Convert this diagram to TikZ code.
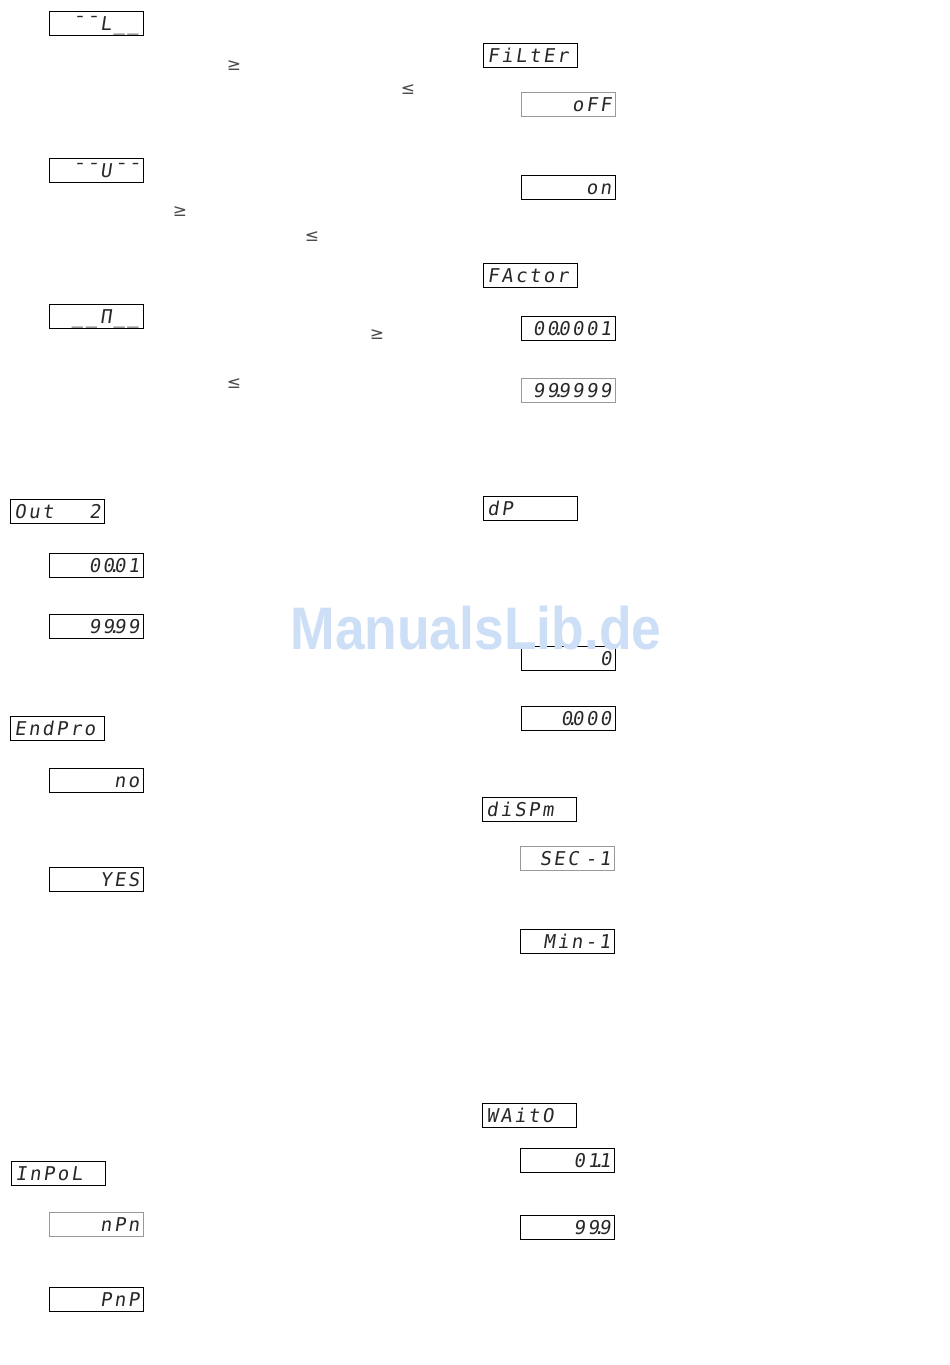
\documentclass[tikz,border=0pt]{standalone}
\usepackage{fontspec}
\newfontfamily\segfont[LetterSpace=13,FakeSlant=0.15]{DejaVu Sans Mono}
\newfontfamily\symfont{DejaVu Sans}
\newfontfamily\wmfont{Liberation Sans}
\definecolor{wmblue}{RGB}{204,223,247}
\definecolor{segink}{RGB}{40,40,40}
\newcommand\dt{\makebox[0pt][c]{.}}
\tikzset{
  disp/.style={draw=black, line width=0.9pt, anchor=north west,
    minimum width=94pt, minimum height=24pt, inner xsep=4pt, inner ysep=0pt,
    text width=86pt, text height=14pt, text depth=0pt,
    font=\segfont\fontsize{19}{19}\selectfont, text=segink},
  rv/.style={disp, align=right},
  lv/.style={disp, align=left},
  pale/.style={draw=black!40},
  rel/.style={font=\symfont\fontsize{17}{17}\selectfont, text=black!70, inner sep=0pt}
}
\begin{document}
\begin{tikzpicture}[x=1pt,y=-1pt]
\useasboundingbox[fill=white] (0,0) rectangle (950,1365);
% left column
\node[rv] (lo) at (49,11) {¯¯L\_\_};
\node[rel] (ge1) at (234,66) {≥};
\node[rel] (le1) at (408,90) {≤};
\node[rv] (up) at (49,158) {¯¯U¯¯};
\node[rel] (ge2) at (180,212) {≥};
\node[rel] (le2) at (312,237) {≤};
\node[rv] (mid) at (49,304) {\_\_Π\_\_};
\node[rel] (ge3) at (377,335) {≥};
\node[rel] (le3) at (234,384) {≤};
\node[lv] (out) at (10,499) {Out\hfill 2};
\node[rv] (o1) at (49,553) {00\dt01};
\node[rv] (o2) at (49,614) {99\dt99};
\node[lv] (endp) at (10,716) {EndPro};
\node[rv] (no) at (49,768) {no};
\node[rv] (yes) at (49,867) {YES};
\node[lv] (inpol) at (11,1161) {InPoL};
\node[rv,pale] (npn) at (49,1212) {nPn};
\node[rv] (pnp) at (49,1287) {PnP};
% right column
\node[lv] (filt) at (483,43) {FiLtEr};
\node[rv,pale] (off) at (521,92) {oFF};
\node[rv] (on) at (521,175) {on};
\node[lv] (fact) at (483,263) {FActor};
\node[rv] (f1) at (521,316) {00\dt0001};
\node[rv,pale] (f2) at (521,378) {99\dt9999};
\node[lv] (dp) at (483,496) {dP};
\node[rv] (dp0) at (521,646) {0};
\node[rv] (dp3) at (521,706) {0\dt000};
\node[lv] (disp) at (482,797) {diSPm};
\node[rv,pale] (sec) at (520,846) {SEC~-1};
\node[rv] (min) at (520,929) {Min-1};
\node[lv] (wait) at (482,1103) {WAitO};
\node[rv] (w1) at (520,1148) {01\dt1};
\node[rv] (w2) at (520,1215) {99\dt9};
% watermark
\node[font=\wmfont\bfseries\fontsize{60}{60}\selectfont, text=wmblue, xscale=0.89, transform shape, inner sep=0pt] (wm) at (476,628) {ManualsLib.de};
\end{tikzpicture}
\end{document}
